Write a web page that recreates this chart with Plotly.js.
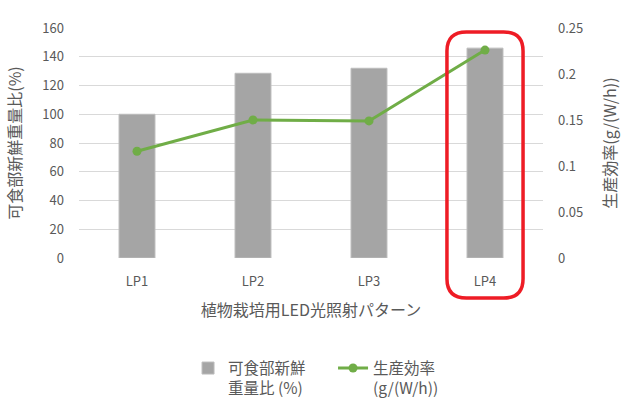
<!DOCTYPE html>
<html>
<head>
<meta charset="utf-8">
<script src="https://cdn.plot.ly/plotly-3.0.1.min.js"></script>
<style>
  html, body { margin: 0; padding: 0; background: #fff; }
  #chart { width: 625px; height: 404px; }
</style>
</head>
<body>
<div id="chart"></div>
<script>
// data
var patterns = ["LP1", "LP2", "LP3", "LP4"];
var freshWeightRatio = [100, 128.5, 132, 146];       // 可食部新鮮重量比 (%)
var productionEff = [0.116, 0.150, 0.149, 0.226];     // 生産効率 g/(W/h)

var jpFont = "'Noto Sans CJK JP', 'Open Sans', sans-serif";
var grey = "#595959";

var barTrace = {
  x: patterns,
  y: freshWeightRatio,
  type: "bar",
  name: "可食部新鮮<br>重量比 (%)",
  marker: { color: "#a5a5a5", line: { color: "#bdbdbd", width: 1 } },
  yaxis: "y"
};

var lineTrace = {
  x: patterns,
  y: productionEff,
  type: "scatter",
  mode: "lines+markers",
  name: "生産効率<br>(g/(W/h))",
  line: { color: "#70ad47", width: 3 },
  marker: { color: "#70ad47", size: 9 },
  yaxis: "y2"
};

var layout = {
  width: 625,
  height: 404,
  margin: { l: 79, r: 82, t: 28, b: 146 },
  paper_bgcolor: "#fff",
  plot_bgcolor: "#fff",
  font: { family: jpFont, color: grey, size: 13 },
  bargap: 0.69,
  showlegend: true,
  legend: {
    orientation: "h",
    xref: "paper",
    x: 0.235, xanchor: "left",
    yref: "container",
    y: 0.13, yanchor: "top",
    valign: "top",
    font: { size: 15.5, color: grey },
    entrywidth: 100
  },
  xaxis: {
    automargin: false,
    showgrid: false,
    zeroline: false,
    showline: false,
    ticks: "",
    ticklabelstandoff: 14,
    tickfont: { size: 13 },
    title: { text: "植物栽培用LED光照射パターン", font: { size: 16, color: grey }, standoff: 15 }
  },
  yaxis: {
    automargin: false,
    range: [0, 160],
    dtick: 20,
    gridcolor: "#d9d9d9",
    gridwidth: 1,
    zeroline: false,
    showline: false,
    ticks: "",
    ticklabelstandoff: 14,
    tickfont: { size: 13 },
    title: { text: "可食部新鮮重量比(%)", font: { size: 16, color: grey }, standoff: 16 }
  },
  yaxis2: {
    automargin: false,
    range: [0, 0.25],
    dtick: 0.05,
    overlaying: "y",
    side: "right",
    showgrid: false,
    zeroline: false,
    showline: false,
    ticks: "",
    ticklabelstandoff: 14,
    tickfont: { size: 13 },
    title: { text: "生産効率(g/(W/h))", font: { size: 16, color: grey }, standoff: 22 }
  },
  shapes: [
    // red highlight box around LP4 (drawn in paper units)
    {
      type: "path",
      xref: "paper", yref: "paper",
      path: "M 0.835,0.983 L 0.915,0.983 Q 0.957,0.983 0.957,0.9 L 0.957,-0.09 Q 0.957,-0.174 0.915,-0.174 L 0.835,-0.174 Q 0.793,-0.174 0.793,-0.09 L 0.793,0.9 Q 0.793,0.983 0.835,0.983 Z",
      line: { color: "#ee1c25", width: 3.5 },
      fillcolor: "rgba(0,0,0,0)"
    }
  ]
};

Plotly.newPlot("chart", [barTrace, lineTrace], layout, { displayModeBar: false, staticPlot: true });
</script>
</body>
</html>
